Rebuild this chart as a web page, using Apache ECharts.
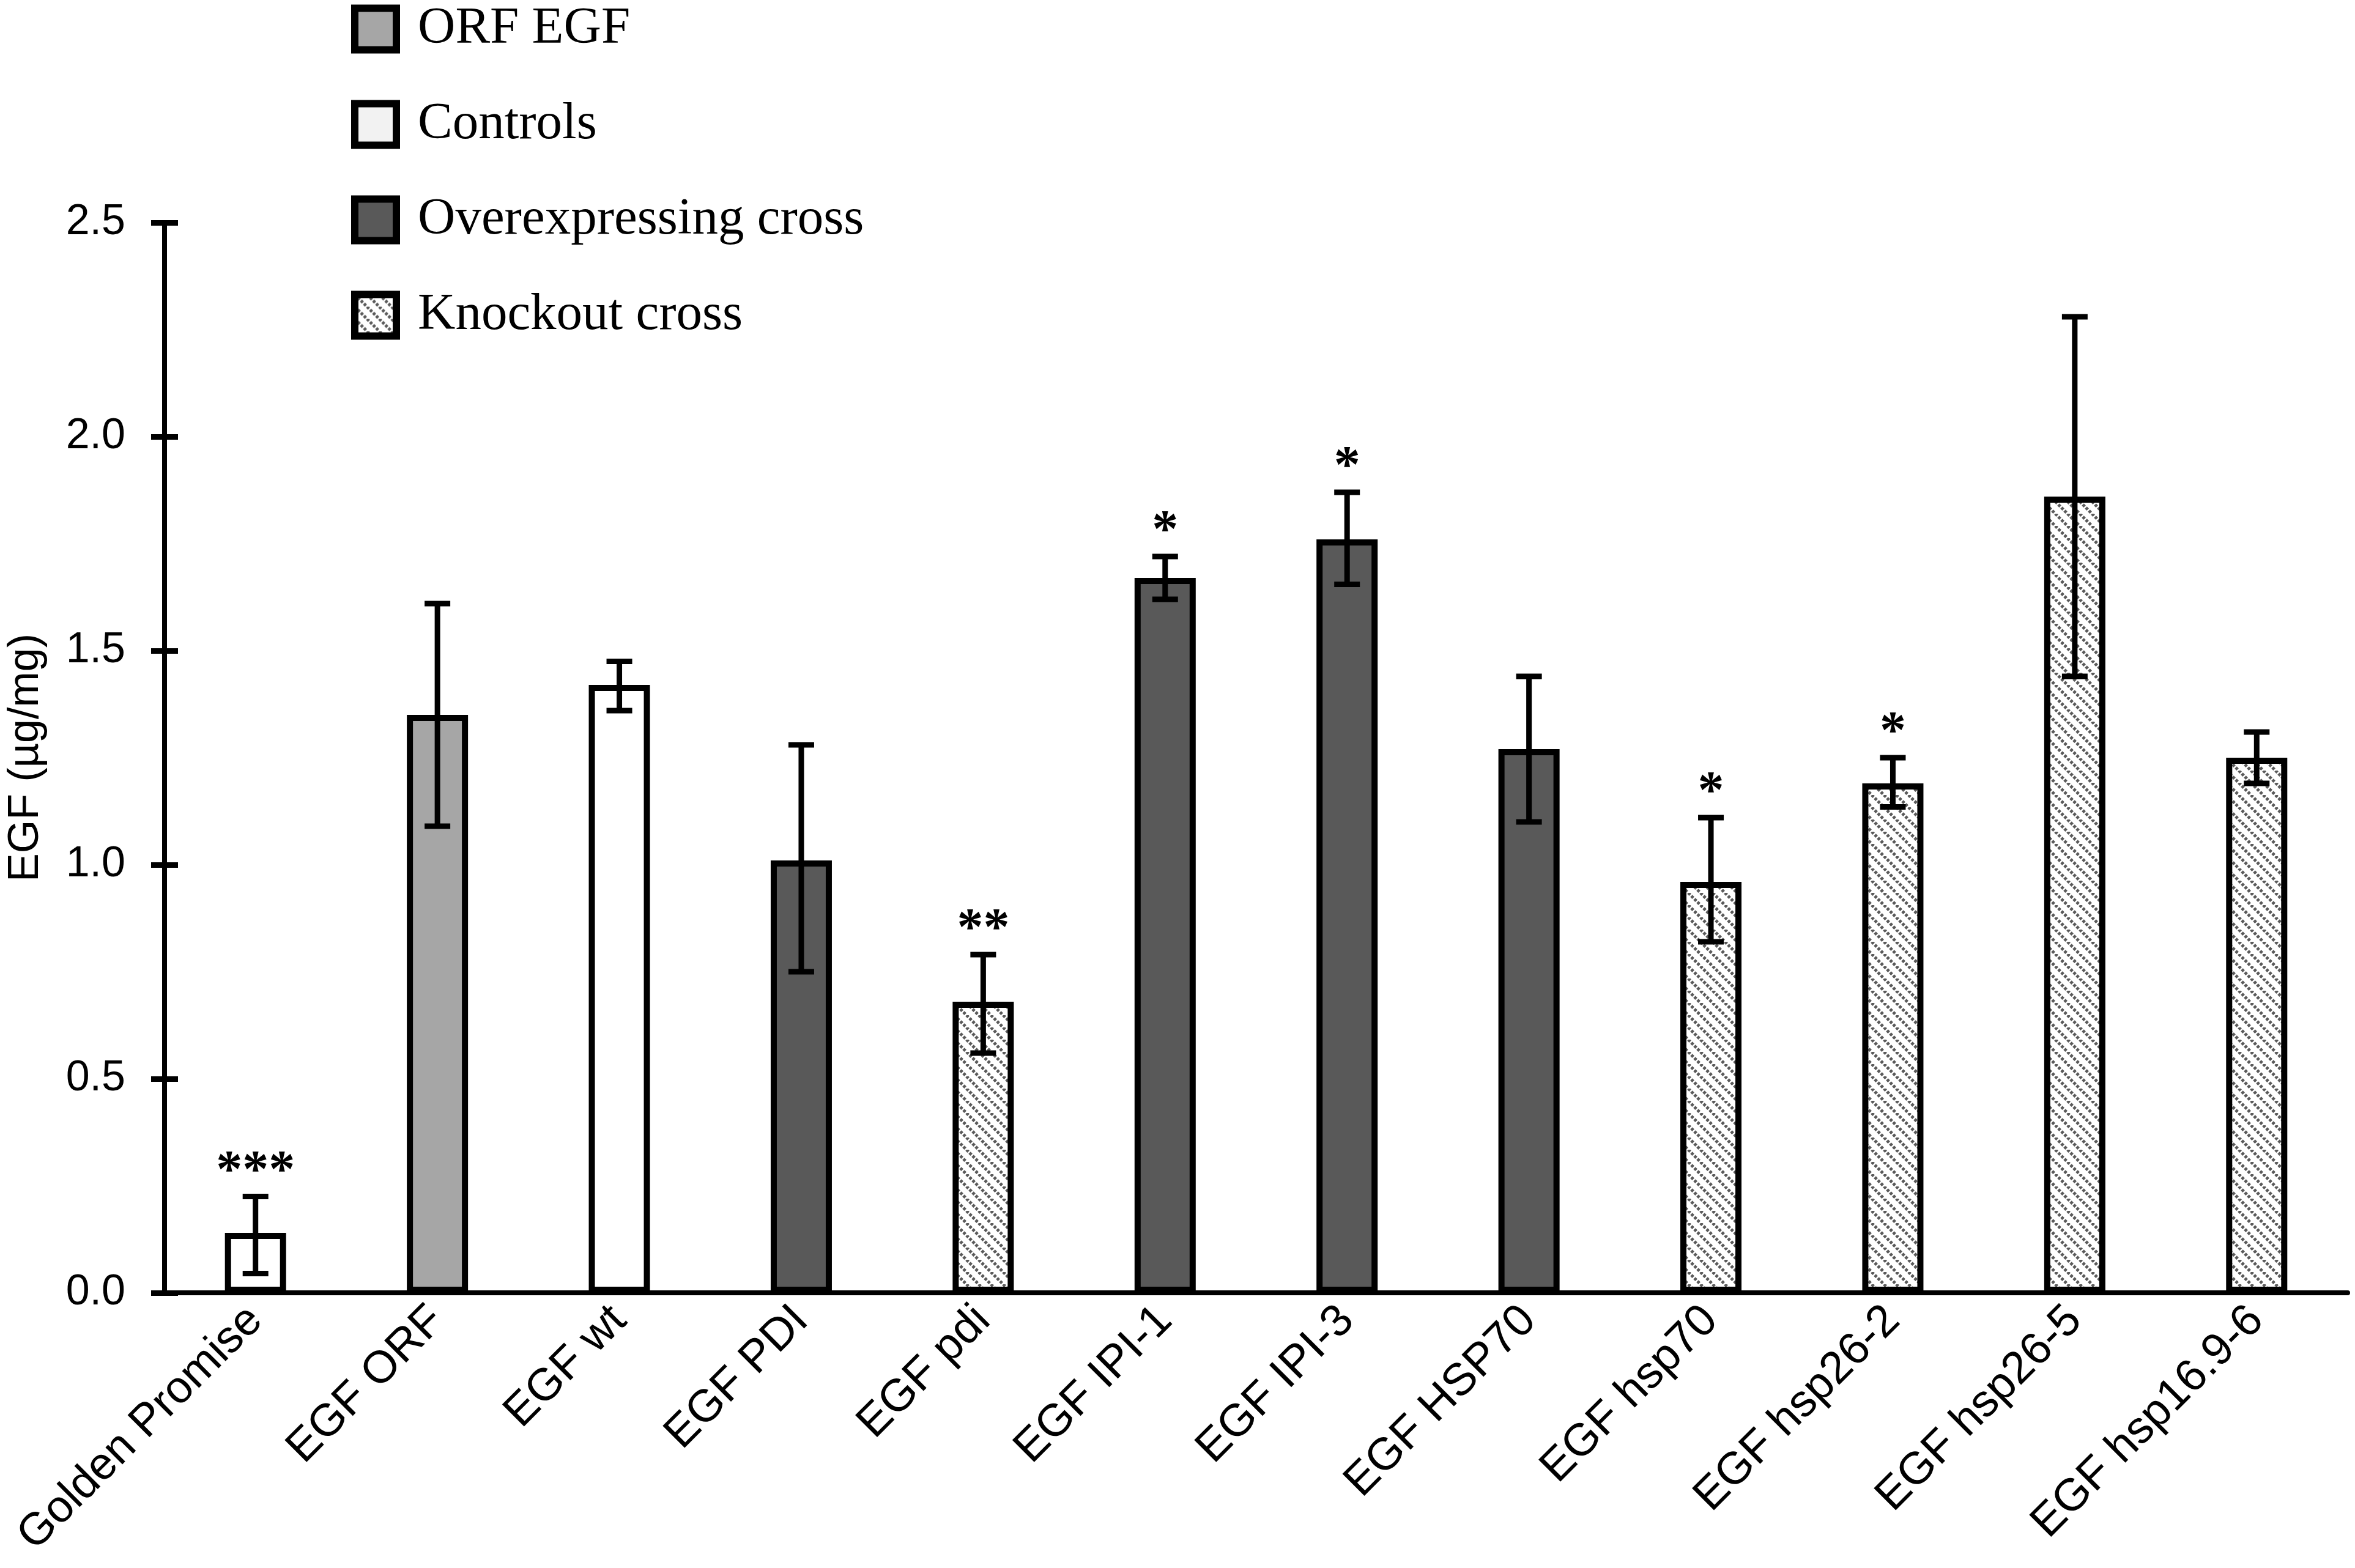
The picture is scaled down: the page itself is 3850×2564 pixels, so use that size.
<!DOCTYPE html>
<html>
<head>
<meta charset="utf-8">
<style>html,body{margin:0;padding:0;background:#fff}</style>
</head>
<body>
<div id="main" style="width:3850px;height:2564px"></div>
<script src="https://cdn.jsdelivr.net/npm/echarts@6/dist/echarts.min.js"></script>
<script>
// values / groups
var categories = ["Golden Promise", "EGF ORF", "EGF wt", "EGF PDI", "EGF pdi", "EGF IPI-1",
  "EGF IPI-3", "EGF HSP70", "EGF hsp70", "EGF hsp26-2", "EGF hsp26-5", "EGF hsp16.9-6"];
var groups = ["Controls", "ORF EGF", "Controls", "Overexpressing cross", "Knockout cross",
  "Overexpressing cross", "Overexpressing cross", "Overexpressing cross", "Knockout cross",
  "Knockout cross", "Knockout cross", "Knockout cross"];
var means = [0.14, 1.35, 1.42, 1.01, 0.68, 1.67, 1.76, 1.27, 0.96, 1.19, 1.86, 1.25];
var errLow = [0.045, 1.09, 1.36, 0.75, 0.56, 1.62, 1.655, 1.10, 0.82, 1.135, 1.44, 1.19];
var errHigh = [0.225, 1.61, 1.475, 1.28, 0.79, 1.72, 1.87, 1.44, 1.11, 1.25, 2.28, 1.31];
var stars = ["***", "", "", "", "**", "*", "*", "", "*", "*", "", ""];
var legendNames = ["ORF EGF", "Controls", "Overexpressing cross", "Knockout cross"];
var yTicks = [0, 0.5, 1.0, 1.5, 2.0, 2.5];

// hatch fill for the knockout crosses
var hatch = document.createElement("canvas");
hatch.width = 20;
hatch.height = 20;
var ctx = hatch.getContext("2d");
ctx.fillStyle = "#ffffff";
ctx.fillRect(0, 0, 20, 20);
ctx.strokeStyle = "#5a5a5a";
ctx.lineWidth = 5;
ctx.setLineDash([4.5, 2.57]);
for (var k = -1; k <= 1; k++) {
  ctx.beginPath();
  ctx.moveTo(k * 20, 0);
  ctx.lineTo(k * 20 + 20, 20);
  ctx.stroke();
}

var fills = {
  "ORF EGF": "#a6a6a6",
  "Controls": "#ffffff",
  "Overexpressing cross": "#595959",
  "Knockout cross": { image: hatch, repeat: "repeat" }
};

var barSeries = legendNames.map(function (name) {
  return {
    name: name,
    type: "bar",
    barWidth: 100,
    barGap: "-100%",
    itemStyle: { color: fills[name], borderColor: "#000", borderWidth: 10 },
    data: means.map(function (v, i) { return groups[i] === name ? v : "-"; })
  };
});

var errSeries = {
  type: "custom",
  z: 10,
  data: categories.map(function (c, i) { return [i, errLow[i], errHigh[i]]; }),
  encode: { x: 0, y: [1, 2] },
  renderItem: function (params, api) {
    var x = api.value(0);
    var lo = api.coord([x, api.value(1)]);
    var hi = api.coord([x, api.value(2)]);
    var half = 21;
    var st = { stroke: "#000", lineWidth: 9 };
    var kids = [
      { type: "line", shape: { x1: lo[0], y1: lo[1], x2: hi[0], y2: hi[1] }, style: st },
      { type: "line", shape: { x1: lo[0] - half, y1: lo[1], x2: lo[0] + half, y2: lo[1] }, style: st },
      { type: "line", shape: { x1: hi[0] - half, y1: hi[1], x2: hi[0] + half, y2: hi[1] }, style: st }
    ];
    var s = stars[params.dataIndex];
    if (s) {
      kids.push({
        type: "text",
        style: {
          text: s, x: hi[0], y: hi[1] + 4, align: "center", verticalAlign: "bottom",
          font: 'bold 86px "Liberation Serif"', fill: "#000"
        }
      });
    }
    return { type: "group", children: kids };
  }
};

var myChart = echarts.init(document.getElementById("main"));
var option = {
  backgroundColor: "#fff",
  animation: false,
  grid: { left: 263, right: 12, top: 364, bottom: 450, containLabel: false },
  legend: {
    orient: "vertical",
    left: 574,
    top: 5,
    padding: 0,
    icon: "rect",
    itemWidth: 68,
    itemHeight: 68,
    itemGap: 71,
    itemStyle: { borderColor: "#000", borderWidth: 12 },
    textStyle: { fontFamily: "Liberation Serif", fontSize: 85, lineHeight: 84, color: "#000", padding: [0, 0, 0, 30] },
    data: [
      { name: "ORF EGF" },
      { name: "Controls", itemStyle: { color: "#f2f2f2" } },
      { name: "Overexpressing cross" },
      { name: "Knockout cross" }
    ]
  },
  xAxis: {
    type: "category",
    data: categories,
    axisTick: { show: false },
    axisLine: { lineStyle: { color: "#000", width: 8 } },
    axisLabel: {
      rotate: 45, interval: 0, margin: 34, color: "#000",
      fontFamily: "Liberation Sans", fontSize: 74
    }
  },
  yAxis: [
    {
      type: "value",
      min: 0, max: 2.5, interval: 0.5,
      name: "EGF (µg/mg)",
      nameLocation: "middle",
      nameGap: 191,
      nameTextStyle: { fontFamily: "Liberation Sans", fontSize: 70, color: "#000" },
      splitLine: { show: false },
      axisLine: { show: true, lineStyle: { color: "#000", width: 8 } },
      axisTick: { show: true, length: 22, lineStyle: { color: "#000", width: 9 } },
      axisLabel: {
        margin: 64, color: "#000", fontFamily: "Liberation Sans", fontSize: 70,
        formatter: function (v) { return yTicks.indexOf(v) > -1 ? v.toFixed(1) : ""; }
      }
    },
    {
      type: "value",
      position: "left",
      min: 0, max: 2.5, interval: 0.5,
      splitLine: { show: false },
      axisLine: { show: false },
      axisLabel: { show: false },
      axisTick: { show: true, inside: true, length: 22, lineStyle: { color: "#000", width: 9 } }
    }
  ],
  series: barSeries.concat([errSeries])
};
myChart.setOption(option);
</script>
</body>
</html>
